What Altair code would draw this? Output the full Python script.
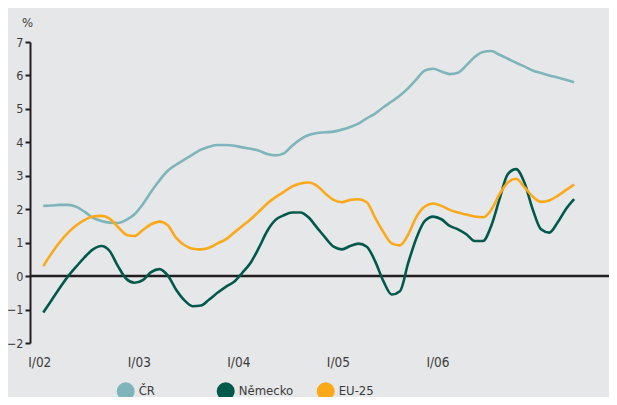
import altair as alt
import pandas as pd

# months since I/2002
months = list(range(65))

cr = [2.10, 2.11, 2.13, 2.13, 2.07, 1.92, 1.74, 1.65, 1.60, 1.59,
      1.68, 1.85, 2.15, 2.52, 2.86, 3.15, 3.33, 3.48, 3.63, 3.78,
      3.87, 3.92, 3.92, 3.90, 3.85, 3.81, 3.75, 3.65, 3.61, 3.67,
      3.90, 4.09, 4.22, 4.28, 4.30, 4.32, 4.38, 4.46, 4.56, 4.72,
      4.86, 5.05, 5.22, 5.40, 5.62, 5.89, 6.15, 6.20, 6.12, 6.04,
      6.08, 6.30, 6.55, 6.70, 6.73, 6.62, 6.50, 6.38, 6.27, 6.15,
      6.07, 6.00, 5.94, 5.87, 5.80]

de = [-1.09, -0.72, -0.35, 0.00, 0.29, 0.57, 0.80, 0.90, 0.75, 0.30,
      -0.08, -0.20, -0.12, 0.12, 0.21, 0.02, -0.40, -0.72, -0.90, -0.88,
      -0.70, -0.50, -0.32, -0.17, 0.10, 0.40, 0.85, 1.35, 1.68, 1.82,
      1.90, 1.90, 1.75, 1.45, 1.15, 0.88, 0.80, 0.90, 0.97, 0.88,
      0.45, -0.15, -0.55, -0.45, 0.40, 1.15, 1.65, 1.78, 1.70, 1.50,
      1.40, 1.25, 1.05, 1.05, 1.50, 2.30, 3.05, 3.20, 2.80, 2.00,
      1.40, 1.30, 1.60, 2.00, 2.30]

eu = [0.30, 0.68, 1.02, 1.30, 1.52, 1.68, 1.78, 1.80, 1.72, 1.47,
      1.24, 1.20, 1.38, 1.55, 1.63, 1.52, 1.15, 0.93, 0.82, 0.80,
      0.85, 0.98, 1.10, 1.30, 1.50, 1.70, 1.93, 2.17, 2.36, 2.52,
      2.68, 2.77, 2.80, 2.70, 2.47, 2.28, 2.21, 2.28, 2.30, 2.21,
      1.75, 1.32, 0.98, 0.92, 1.25, 1.78, 2.08, 2.17, 2.10, 1.98,
      1.90, 1.84, 1.78, 1.76, 1.98, 2.45, 2.80, 2.91, 2.66, 2.38,
      2.22, 2.26, 2.40, 2.57, 2.74]

series_names = ["ČR", "Německo", "EU-25"]
series_colors = ["#7db5bb", "#00594b", "#fba919"]
tick_months = [0, 12, 24, 36, 48]
tick_labels = ["I/02", "I/03", "I/04", "I/05", "I/06"]
y_ticks = [-2, -1, 0, 1, 2, 3, 4, 5, 6, 7]

rows = []
for name, vals in zip(series_names, [cr, de, eu]):
    for m, v in zip(months, vals):
        rows.append({"m": m, "v": v, "s": name})
df = pd.DataFrame(rows)

label_expr = "{" + ",".join(f"'{m}':'{l}'" for m, l in zip(tick_months, tick_labels)) + "}[datum.value]"

FONT = "Liberation Sans Narrow, DejaVu Sans Condensed, Roboto Condensed, Arial Narrow, Liberation Sans, sans-serif"
TXT = "#3c3c3c"

yscale = alt.Scale(domain=[-2, 7], nice=False, zero=False)
yaxis = alt.Axis(values=y_ticks, grid=False, domainColor="#231f20", domainWidth=2,
                 tickColor="#231f20", tickWidth=2, tickSize=5, labelPadding=2,
                 labelOverlap=False, labelFlush=False,
                 labelFontSize=12.5, labelColor=TXT, labelFont=FONT,
                 title="%", titleAngle=0, titleX=-3, titleY=-16, titleAlign="center",
                 titleBaseline="alphabetic", titleFontWeight="normal", titleFontSize=13,
                 titleColor=TXT, titleFont=FONT)

x = alt.X("m:Q", scale=alt.Scale(domain=[-1.6, 68.2], nice=False, zero=False),
          axis=alt.Axis(values=tick_months, labelExpr=label_expr, domain=False, ticks=False,
                        grid=False, labelPadding=12, labelOffset=-4, labelFontSize=13.5,
                        labelColor=TXT, labelFont=FONT, title=None))

zero = alt.Chart(pd.DataFrame({"v": [0]})).mark_rule(color="#231f20", strokeWidth=2.5).encode(
    y=alt.Y("v:Q", scale=yscale, axis=yaxis)
)

lines = alt.Chart(df).mark_line(strokeWidth=2.6, interpolate="monotone").encode(
    x=x,
    y=alt.Y("v:Q", scale=yscale, axis=yaxis),
    color=alt.Color("s:N", scale=alt.Scale(domain=series_names, range=series_colors),
                    legend=alt.Legend(title=None, orient="none", legendX=86.7, legendY=340,
                                      direction="horizontal", symbolType="circle",
                                      symbolSize=81, symbolStrokeWidth=9, symbolOpacity=1,
                                      labelFontSize=13, labelColor=TXT, labelFont=FONT,
                                      labelOffset=4, columnPadding=9, gridAlign="all")),
    detail="s:N",
)

chart = alt.layer(zero, lines).properties(
    width=579, height=301,
    autosize=alt.AutoSizeParams(type="none"),
    padding={"left": 22, "top": 34, "right": 0, "bottom": 54},
    background="#e6e7e8",
).configure_view(stroke=None)

chart.save("out.html", embed_options={"renderer": "svg", "actions": False})
